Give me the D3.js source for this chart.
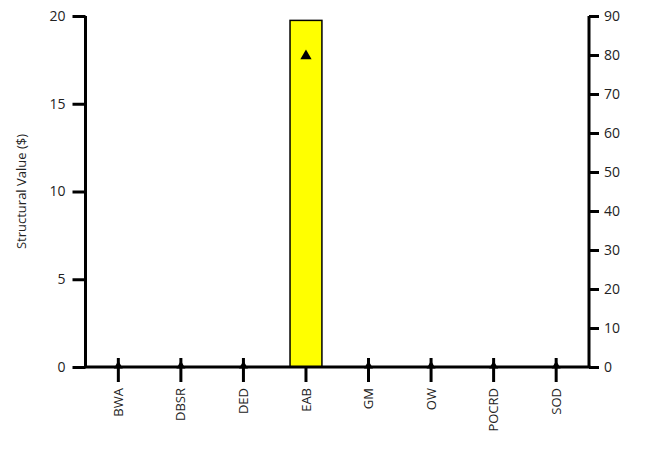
<!DOCTYPE html>
<html><head><meta charset="utf-8">
<script src="https://cdn.jsdelivr.net/npm/d3@7"></script>
<style>body{margin:0;background:#fff}text{font-family:"Open Sans",sans-serif}</style>
</head><body><svg id="c" width="650" height="453"></svg>
<script>
const categories = ["BWA","DBSR","DED","EAB","GM","OW","POCRD","SOD"];
const barValues = [0,0,0,19.75,0,0,0,0];
const markerValues = [0,0,0,80,0,0,0,0];
const leftTicks = [0,5,10,15,20];
const rightTicks = [0,10,20,30,40,50,60,70,80,90];
const yTitle = "Structural Value ($)";

const svg = d3.select("#c");
const L = 85.5, R = 589, T = 16, B = 367;
const x = d3.scaleBand().domain(categories).range([L, R]).paddingInner(0.49).paddingOuter(0.27);
const yL = d3.scaleLinear().domain([0,20]).range([B, T]);
const yR = d3.scaleLinear().domain([0,90]).range([B, T]);
const txtCol = "#222";

const xa = svg.append("g").attr("transform",`translate(0,${B})`)
  .call(d3.axisBottom(x).tickSize(15).tickSizeOuter(0).tickPadding(5));
xa.select(".domain").remove();
xa.selectAll("line").attr("stroke","#000").attr("stroke-width",3);
xa.selectAll("text").attr("transform","rotate(-90)").attr("text-anchor","end")
  .attr("x",-21).attr("y",0).attr("dy","0.35em").attr("font-size",13).attr("fill",txtCol);

svg.append("g").selectAll("rect").data(categories.map((c,i)=>({c,v:barValues[i]})).filter(d=>d.v>0))
  .join("rect").attr("x",d=>x(d.c)).attr("width",x.bandwidth())
  .attr("y",d=>yL(d.v)).attr("height",d=>yL(0)-yL(d.v))
  .attr("fill","#ffff00").attr("stroke","#000").attr("stroke-width",1.5);

const la = svg.append("g").attr("transform",`translate(${L},0)`)
  .call(d3.axisLeft(yL).tickValues(leftTicks).tickSize(13).tickPadding(7));
la.select(".domain").attr("stroke-width",3).attr("d",`M0,${T}V${B}`);
la.selectAll("line").attr("stroke-width",3);
la.selectAll("text").attr("font-size",14).attr("fill",txtCol);

const ra = svg.append("g").attr("transform",`translate(${R},0)`)
  .call(d3.axisRight(yR).tickValues(rightTicks).tickSize(10).tickPadding(5));
ra.select(".domain").attr("stroke-width",3).attr("d",`M0,${T}V${B}`);
ra.selectAll("line").attr("stroke-width",3);
ra.selectAll("text").attr("font-size",14).attr("fill",txtCol);

svg.append("line").attr("x1",L-1.5).attr("x2",R+1.5).attr("y1",B).attr("y2",B)
  .attr("stroke","#000").attr("stroke-width",3);

const tri = d3.symbol().type(d3.symbolTriangle);
svg.append("g").selectAll("path").data(categories.map((c,i)=>({c,v:markerValues[i]})))
  .join("path")
  .attr("d",d=>tri.size(d.v>0?55:35)())
  .attr("transform",d=>`translate(${x(d.c)+x.bandwidth()/2},${d.v>0?yR(d.v)+1:yR(d.v)-1})`)
  .attr("fill","#000");
svg.append("g").selectAll("line").data(categories.filter((c,i)=>markerValues[i]===0))
  .join("line").attr("x1",d=>x(d)+x.bandwidth()/2).attr("x2",d=>x(d)+x.bandwidth()/2)
  .attr("y1",B-9).attr("y2",B).attr("stroke","#000").attr("stroke-width",3);

svg.append("text").attr("transform",`translate(26,${(T+B)/2}) rotate(-90)`)
  .attr("text-anchor","middle").attr("font-size",13).attr("fill",txtCol).text(yTitle);
</script></body></html>
